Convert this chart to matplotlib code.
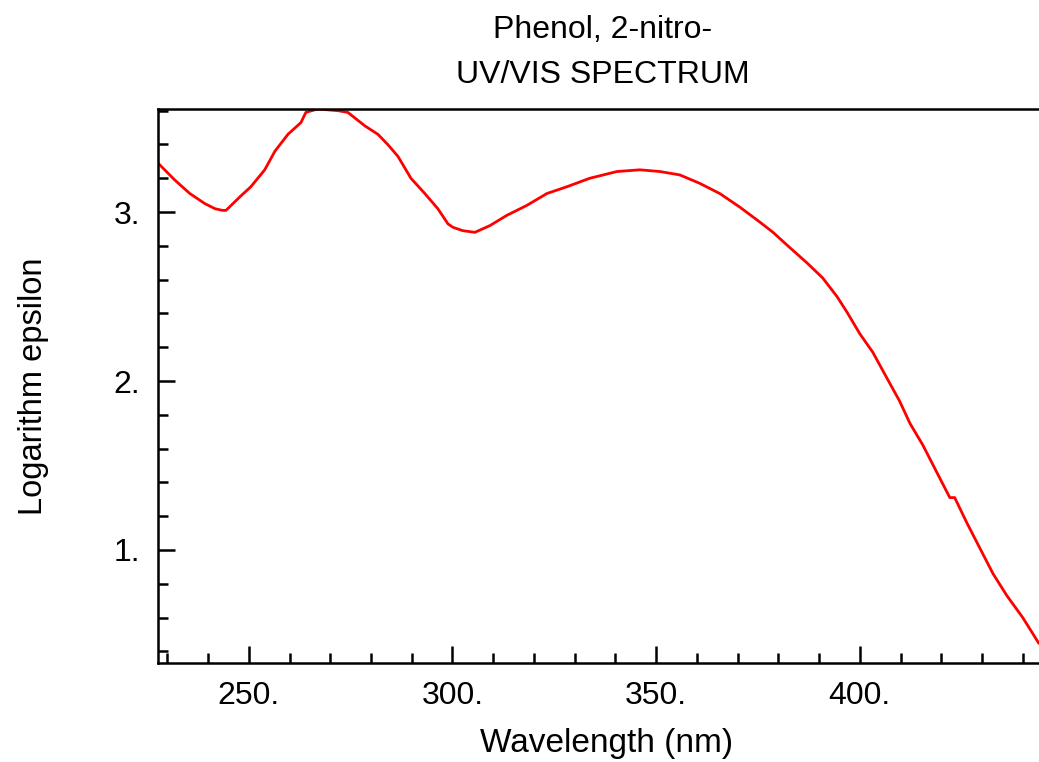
import matplotlib
matplotlib.use("Agg")
import matplotlib.pyplot as plt
from matplotlib.ticker import MultipleLocator, FuncFormatter

plt.rcParams['font.family'] = ['Liberation Sans', 'DejaVu Sans']

wavelength = [227.7, 231.8, 235.5, 239.2, 241.7, 243.5, 244.4, 247.8, 250.5, 253.9,
              256.4, 259.6, 262.8, 264.0, 266.9, 271.9, 274.3, 278.5, 281.7, 284.1,
              286.6, 289.8, 293.2, 296.4, 298.9, 300.1, 302.5, 305.5, 309.2, 313.3,
              318.3, 323.2, 328.1, 333.7, 340.4, 346.0, 350.9, 355.8, 360.7, 365.6,
              370.5, 375.5, 378.7, 382.8, 387.0, 390.9, 394.4, 396.8, 400.0, 403.2,
              406.6, 409.8, 412.3, 415.5, 418.9, 422.1, 423.3, 426.3, 429.5, 432.7,
              436.1, 440.0, 443.9]
log_eps = [3.29, 3.19, 3.11, 3.05, 3.02, 3.01, 3.01, 3.09, 3.15, 3.25,
           3.36, 3.46, 3.53, 3.59, 3.61, 3.60, 3.59, 3.51, 3.46, 3.40,
           3.33, 3.20, 3.11, 3.02, 2.93, 2.91, 2.89, 2.88, 2.92, 2.98,
           3.04, 3.11, 3.15, 3.20, 3.24, 3.25, 3.24, 3.22, 3.17, 3.11,
           3.03, 2.94, 2.88, 2.79, 2.70, 2.61, 2.50, 2.41, 2.28, 2.17,
           2.02, 1.88, 1.75, 1.62, 1.46, 1.31, 1.31, 1.16, 1.01, 0.86,
           0.73, 0.60, 0.45]

title_lines = ["Phenol, 2-nitro-", "UV/VIS SPECTRUM"]
x_label = "Wavelength (nm)"
y_label = "Logarithm epsilon"

fig = plt.figure(figsize=(10.39, 7.62), dpi=100)
ax = fig.add_axes([158/1039, 1 - 663/762, 1 - 158/1039, (663 - 109)/762])

ax.plot(wavelength, log_eps, color='#ff0000', lw=2.0)

ax.set_xlim(227.7, 444.0)
ax.set_ylim(0.331, 3.61)

ax.spines['right'].set_visible(False)
for s in ['left', 'bottom', 'top']:
    ax.spines[s].set_linewidth(1.8)

ax.xaxis.set_major_locator(MultipleLocator(50))
ax.xaxis.set_minor_locator(MultipleLocator(10))
ax.yaxis.set_major_locator(MultipleLocator(1))
ax.yaxis.set_minor_locator(MultipleLocator(0.2))
ax.xaxis.set_major_formatter(FuncFormatter(lambda v, p: f"{int(round(v))}."))
ax.yaxis.set_major_formatter(FuncFormatter(lambda v, p: f"{int(round(v))}."))

ax.tick_params(which='both', direction='in', top=False, right=False, width=1.8, labelsize=23)
ax.tick_params(which='major', length=12.5, pad=13)
ax.tick_params(which='minor', length=7)

ax.set_xlabel(x_label, fontsize=24)
ax.xaxis.set_label_coords((607 - 158) / 881, -0.145)
ax.xaxis.label.set_va('center')
ax.set_ylabel(y_label, fontsize=23.5, labelpad=46)

fig.text(603/1039, 1 - 30/762, title_lines[0], ha='center', va='center', fontsize=23)
fig.text(603/1039, 1 - 75/762, title_lines[1], ha='center', va='center', fontsize=23)

fig.savefig("out.png", dpi=100)
